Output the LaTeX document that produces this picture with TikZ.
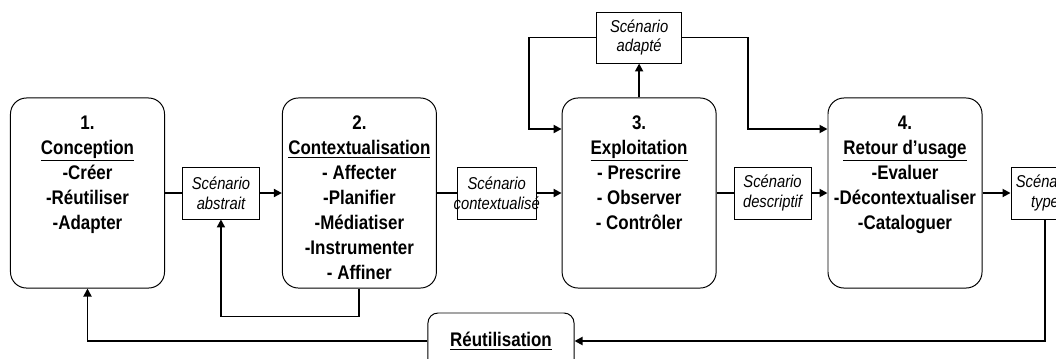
\documentclass[tikz,border=0pt]{standalone}
\usepackage{fontspec}
\setmainfont{Liberation Sans}[FakeStretch=0.86]
\usepackage{tikz}
\usetikzlibrary{positioning, arrows.meta}

\newcommand{\phasetext}[1]{\parbox[c][3.85cm][t]{3.85cm}{\centering #1}}

\begin{document}
\begin{tikzpicture}[x=0.025cm, y=-0.025cm,
  phase/.style={
    rectangle, rounded corners=4mm, draw, line width=0.7pt,
    inner xsep=0pt, inner ysep=4.5mm,
    font=\bfseries\fontsize{14}{17.7}\selectfont
  },
  scen/.style={
    rectangle, draw, line width=0.6pt, align=center, inner sep=1pt,
    minimum width=1.925cm, minimum height=1.3cm,
    font=\itshape\fontsize{12.2}{14}\selectfont
  },
  reusebox/.style={
    rectangle, rounded corners=2.5mm, draw, line width=0.7pt,
    minimum width=3.65cm, minimum height=1.4cm,
    font=\bfseries\fontsize{14}{17.7}\selectfont
  },
  flow/.style={-{Triangle[length=2mm, width=2mm]}, line width=1.3pt},
  plain/.style={line width=1.3pt}]
\path[use as bounding box, clip] (0,0) rectangle (1056,358);
\node[phase] (concep) at (87.5,193) {\phasetext{1.\\\underline{Conception}\\-Créer\\-Réutiliser\\-Adapter}};
\node[scen, right=0.425cm of concep] (abstr) {Scénario\\abstrait};
\node[phase, right=0.55cm of abstr] (context) {\phasetext{2.\\\underline{Contextualisation}\\- Affecter\\-Planifier\\-Médiatiser\\-Instrumenter\\- Affiner}};
\node[scen, right=0.5cm of context] (ctxlbl) {Scénario\\\makebox[1.9cm]{contextualisé}};
\node[phase, right=0.625cm of ctxlbl] (exploit) {\phasetext{3.\\\underline{Exploitation}\\- Prescrire\\- Observer\\- Contrôler}};
\node[scen, minimum width=2.125cm, minimum height=1.275cm, above=0.85cm of exploit] (adapt) {Scénario\\adapté};
\node[scen, right=0.425cm of exploit] (descr) {Scénario\\descriptif};
\node[phase, right=0.4cm of descr] (retour) {\phasetext{4.\\\underline{Retour d’usage}\\-Evaluer\\-Décontextualiser\\-Cataloguer}};
\node[scen, minimum width=1.7cm, right=0.7cm of retour] (typ) {Scénario\\type};
\node[reusebox] (reuse) at (501,341) {\underline{Réutilisation}};
\coordinate (adback) at (529,129);
\coordinate (adfwd) at (748,129);
\draw[plain] (concep) -- (abstr);
\draw[flow] (abstr) -- (context);
\draw[flow] (context.south) -- ++(0,28) -| (abstr.south);
\draw[plain] (context) -- (ctxlbl);
\draw[flow] (ctxlbl) -- (exploit);
\draw[flow] (exploit) -- (adapt);
\draw[flow] (adapt.west) -| (adback) -- (adback -| exploit.west);
\draw[flow] (adapt.east) -| (adfwd) -- (adfwd -| retour.west);
\draw[plain] (exploit) -- (descr);
\draw[flow] (descr) -- (retour);
\draw[flow] (retour) -- (typ);
\draw[flow] (typ.south) |- (reuse.east);
\draw[flow] (reuse.west) -| (concep.south);
\end{tikzpicture}
\end{document}
